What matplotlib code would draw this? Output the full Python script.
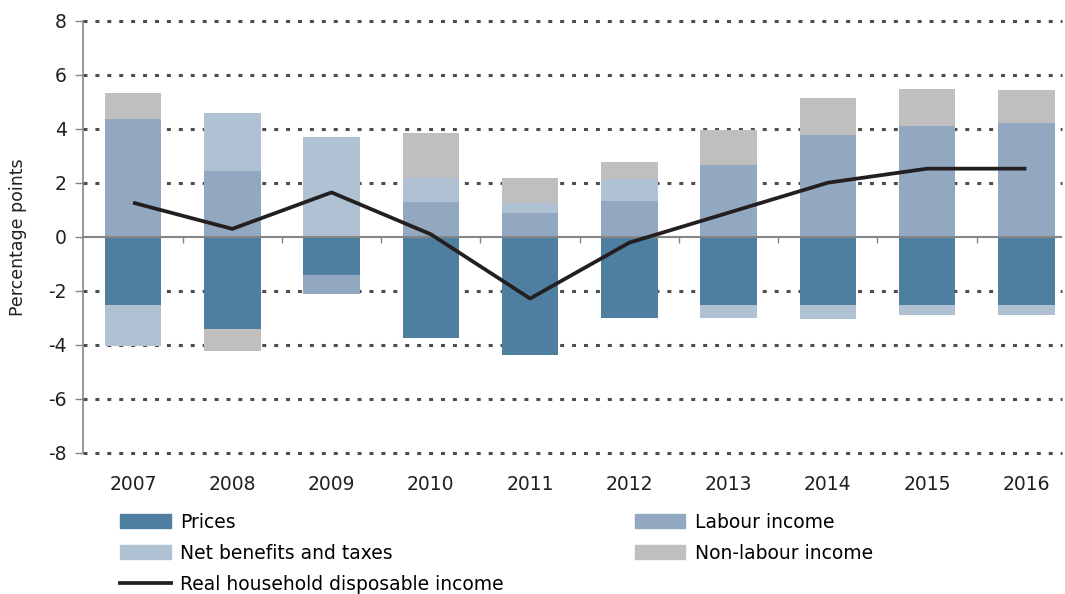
import matplotlib
matplotlib.use('Agg')
import matplotlib.pyplot as plt
import numpy as np
from matplotlib.patches import Patch
from matplotlib.lines import Line2D

plt.rcParams['font.family'] = ['DejaVu Sans']

# ── 데이터 ────────────────────────────────────────────────────────────────
years        = ['2007', '2008', '2009', '2010', '2011', '2012', '2013', '2014', '2015', '2016']
prices       = [-2.52, -3.41, -1.41, -3.73, -4.36, -2.99, -2.52, -2.52, -2.52, -2.52]
labour       = [4.37, 2.44, -0.69, 1.30, 0.89, 1.33, 2.67, 3.78, 4.11, 4.22]
net_benefits = [-1.51, 2.15, 3.70, 0.90, 0.36, 0.82, -0.47, -0.50, -0.37, -0.37]
non_labour   = [0.96, -0.80, 0.00, 1.65, 0.94, 0.63, 1.29, 1.37, 1.37, 1.22]
rhdi         = [1.27, 0.30, 1.65, 0.10, -2.28, -0.21, 0.90, 2.01, 2.53, 2.53]

labels = ['Prices', 'Labour income', 'Net benefits and taxes', 'Non-labour income']
colors = ['#4E7FA1', '#91A8C0', '#B0C1D3', '#BFBFBF']
yticks = list(range(-8, 9, 2))

fig = plt.figure(figsize=(10.65, 5.94), dpi=100)
ax = fig.add_axes([0.0783, 0.2374, 0.919, 0.7273])

x = np.arange(len(years))
pos_base = np.zeros(len(years))
neg_base = np.zeros(len(years))
for series, col in zip([prices, labour, net_benefits, non_labour], colors):
    v = np.array(series)
    pos = np.where(v > 0, v, 0)
    neg = np.where(v < 0, v, 0)
    ax.bar(x, pos, bottom=pos_base, width=0.57, color=col, zorder=2)
    ax.bar(x, neg, bottom=neg_base, width=0.57, color=col, zorder=2)
    pos_base += pos
    neg_base += neg

ax.plot(x, rhdi, color='#231F20', lw=2.7, zorder=4, solid_capstyle='butt')

# 격자 (점선) + 0 축
for yt in yticks:
    if yt == 0:
        continue
    ax.axhline(yt, color='#4D4D4D', lw=2.2, ls=(0, (1.3, 2.6)),
               dash_capstyle='butt', zorder=1, clip_on=False)
ax.axhline(0, color='#858585', lw=1.5, zorder=3)
ax.vlines(np.arange(0.5, len(years) - 1), -0.22, 0, color='#858585', lw=1, zorder=3)

ax.set_xlim(-0.5, 9.36)
ax.set_ylim(-8, 8)
ax.set_yticks(yticks)
ax.set_yticklabels([str(t) if t >= 0 else '-' + str(-t) for t in yticks])
ax.set_xticks(x)
ax.set_xticklabels(years)
ax.tick_params(axis='x', length=0, pad=16, labelsize=13.5, colors='#231F20')
ax.tick_params(axis='y', length=6, width=1, color='#858585', labelsize=13.5,
               labelcolor='#231F20', pad=6)
ax.spines[['top', 'right', 'bottom']].set_visible(False)
ax.spines['left'].set_color('#858585')
ax.spines['left'].set_linewidth(1.2)

fig.text(0.017, 0.6, 'Percentage points', rotation=90, ha='center', va='center',
         fontsize=12.5, color='#231F20')

# 범례 (두 개로 나눔)
h = [Patch(color=c) for c in colors]
line_h = Line2D([], [], color='#231F20', lw=2.7)
kw = dict(frameon=False, fontsize=13.5, handlelength=2.7, handleheight=0.75,
          handletextpad=0.5, labelspacing=0.65, borderaxespad=0, borderpad=0)
fig.legend([h[0], h[2], line_h], [labels[0], labels[2], 'Real household disposable income'],
           loc='upper left', bbox_to_anchor=(0.113, 0.137), **kw)
fig.legend([h[1], h[3]], [labels[1], labels[3]],
           loc='upper left', bbox_to_anchor=(0.596, 0.137), **kw)

fig.savefig('out.png', dpi=100)
